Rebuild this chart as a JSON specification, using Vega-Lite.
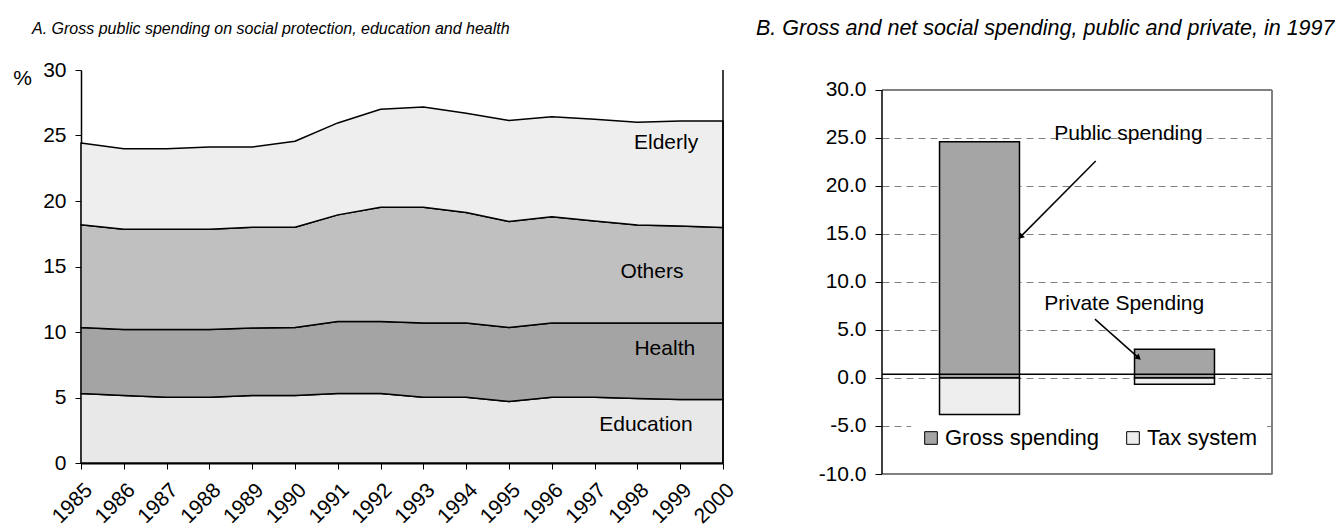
{
  "$schema": "https://vega.github.io/schema/vega-lite/v6.json",
  "background": "white",
  "padding": {"left": 12, "top": 17, "right": 5, "bottom": 0},
  "spacing": 18,
  "resolve": {"scale": {"fill": "independent"}, "legend": {"fill": "independent"}},
  "config": {
    "font": "Liberation Sans",
    "view": {"stroke": null},
    "locale": {"number": {"decimal": ".", "thousands": ",", "grouping": [3], "currency": ["$", ""], "minus": "-"}},
    "axis": {"domainColor": "black", "tickColor": "black", "labelColor": "black", "titleColor": "black", "labelFont": "Liberation Sans", "grid": false},
    "title": {"color": "black", "fontWeight": "normal", "fontStyle": "italic"}
  },
  "hconcat": [
    {
      "width": 642,
      "height": 393,
      "title": {"text": "A. Gross public spending on social protection, education and health", "anchor": "start", "frame": "group", "dx": -49, "fontSize": 16, "offset": 22},
      "layer": [
        {
          "data": {"values": [
            {"year": 1985, "Education": 5.3, "Health": 5.05, "Others": 7.83, "Elderly": 6.25},
            {"year": 1986, "Education": 5.15, "Health": 5.05, "Others": 7.65, "Elderly": 6.14},
            {"year": 1987, "Education": 5.02, "Health": 5.18, "Others": 7.65, "Elderly": 6.14},
            {"year": 1988, "Education": 5.02, "Health": 5.18, "Others": 7.65, "Elderly": 6.27},
            {"year": 1989, "Education": 5.15, "Health": 5.15, "Others": 7.7, "Elderly": 6.12},
            {"year": 1990, "Education": 5.15, "Health": 5.2, "Others": 7.65, "Elderly": 6.56},
            {"year": 1991, "Education": 5.3, "Health": 5.5, "Others": 8.14, "Elderly": 7.02},
            {"year": 1992, "Education": 5.3, "Health": 5.5, "Others": 8.73, "Elderly": 7.47},
            {"year": 1993, "Education": 5.02, "Health": 5.66, "Others": 8.85, "Elderly": 7.65},
            {"year": 1994, "Education": 5.02, "Health": 5.66, "Others": 8.45, "Elderly": 7.57},
            {"year": 1995, "Education": 4.7, "Health": 5.65, "Others": 8.09, "Elderly": 7.7},
            {"year": 1996, "Education": 5.02, "Health": 5.66, "Others": 8.11, "Elderly": 7.65},
            {"year": 1997, "Education": 5.02, "Health": 5.66, "Others": 7.8, "Elderly": 7.76},
            {"year": 1998, "Education": 4.92, "Health": 5.76, "Others": 7.48, "Elderly": 7.85},
            {"year": 1999, "Education": 4.85, "Health": 5.83, "Others": 7.42, "Elderly": 8.01},
            {"year": 2000, "Education": 4.85, "Health": 5.83, "Others": 7.3, "Elderly": 8.13}
          ]},
          "transform": [
            {"fold": ["Education", "Health", "Others", "Elderly"], "as": ["category", "value"]},
            {"lookup": "category", "from": {"data": {"values": [
              {"category": "Education", "rank": 1},
              {"category": "Health", "rank": 2},
              {"category": "Others", "rank": 3},
              {"category": "Elderly", "rank": 4}
            ]}, "key": "category", "fields": ["rank"]}}
          ],
          "mark": {"type": "area", "stroke": "black", "strokeWidth": 1.5, "strokeJoin": "round"},
          "encoding": {
            "x": {"field": "year", "type": "quantitative", "scale": {"domain": [1985, 2000], "nice": false, "zero": false},
              "axis": {"values": [1985,1986,1987,1988,1989,1990,1991,1992,1993,1994,1995,1996,1997,1998,1999,2000], "format": "d", "labelAngle": -45, "labelFontSize": 21, "tickSize": 6, "domainWidth": 2, "title": null, "labelPadding": 10, "labelFlush": false, "labelOverlap": false, "labelBound": false}},
            "y": {"field": "value", "type": "quantitative", "stack": "zero", "scale": {"domain": [0, 30], "nice": false},
              "axis": {"values": [0, 5, 10, 15, 20, 25, 30], "labelFontSize": 21, "tickSize": 6, "domainWidth": 1.5, "labelPadding": 9, "labelFlush": false, "title": "%", "titleAngle": 0, "titleX": -59, "titleY": 8, "titleFontSize": 21, "titleFontWeight": "normal", "titleAlign": "center", "titleBaseline": "middle"}},
            "fill": {"field": "category", "type": "nominal", "scale": {"domain": ["Education", "Health", "Others", "Elderly"], "range": ["#E8E8E8", "#A4A4A4", "#C0C0C0", "#EEEEEE"]}, "legend": null},
            "order": {"field": "rank", "type": "quantitative"}
          }
        },
        {
          "data": {"values": [{}]},
          "mark": {"type": "rule", "color": "black", "strokeWidth": 1.5},
          "encoding": {"x": {"datum": 2000}, "y": {"datum": 0}, "y2": {"datum": 30}}
        },
        {
          "data": {"values": [
            {"label": "Elderly", "year": 1998.67, "value": 24.4},
            {"label": "Others", "year": 1998.34, "value": 14.56},
            {"label": "Health", "year": 1998.64, "value": 8.74},
            {"label": "Education", "year": 1998.2, "value": 2.93}
          ]},
          "mark": {"type": "text", "fontSize": 21, "color": "black", "align": "center", "baseline": "middle"},
          "encoding": {
            "x": {"field": "year", "type": "quantitative"},
            "y": {"field": "value", "type": "quantitative"},
            "text": {"field": "label"}
          }
        }
      ]
    },
    {
      "width": 390,
      "height": 404,
      "title": {"text": "B. Gross and net social spending, public and private, in 1997", "anchor": "start", "frame": "group", "dx": -126, "fontSize": 21.5, "offset": 31},
      "resolve": {"scale": {"x": "independent"}},
      "layer": [
        {
          "data": {"values": [
            {"program": "Public", "type": "Gross spending", "value": 24.6},
            {"program": "Public", "type": "Tax system", "value": -3.8},
            {"program": "Private", "type": "Gross spending", "value": 3.0},
            {"program": "Private", "type": "Tax system", "value": -0.65}
          ]},
          "mark": {"type": "bar", "stroke": "black", "strokeWidth": 1.5},
          "encoding": {
            "x": {"field": "program", "type": "nominal", "sort": ["Public", "Private"], "scale": {"paddingInner": 0.59, "paddingOuter": 0.295}, "axis": null},
            "y": {"field": "value", "type": "quantitative", "stack": "zero", "scale": {"domain": [-10, 32.083], "nice": false, "zero": false},
              "axis": {"values": [-10, -5, 0, 5, 10, 15, 20, 25, 30], "format": ".1f", "labelFontSize": 21, "tickSize": 7, "domain": false, "labelPadding": 9, "title": null, "grid": true, "gridColor": "#808080", "gridDash": [7, 5], "gridWidth": 1}},
            "fill": {"field": "type", "type": "nominal", "scale": {"domain": ["Gross spending", "Tax system"], "range": ["#A5A5A5", "#EEEEEE"]},
              "legend": {"title": null, "orient": "none", "legendX": 29, "legendY": 348, "direction": "horizontal", "symbolType": "square", "symbolSize": 160, "symbolStrokeColor": "black", "symbolStrokeWidth": 1, "labelFontSize": 22, "labelColor": "black", "fillColor": "white", "padding": 9, "columnPadding": 22, "labelOffset": 3}}
          }
        },
        {
          "data": {"values": [{}]},
          "mark": {"type": "rule", "color": "#808080", "strokeWidth": 2},
          "encoding": {"y": {"datum": 30}}
        },
        {
          "data": {"values": [{}]},
          "mark": {"type": "rule", "color": "#808080", "strokeWidth": 2},
          "encoding": {"y": {"datum": -10}}
        },
        {
          "data": {"values": [{}]},
          "mark": {"type": "rule", "color": "#808080", "strokeWidth": 2},
          "encoding": {"x": {"datum": 1, "type": "quantitative", "scale": {"domain": [0, 1], "nice": false, "zero": false}, "axis": null}, "y": {"datum": -10}, "y2": {"datum": 30}}
        },
        {
          "data": {"values": [{}]},
          "mark": {"type": "rule", "color": "black", "strokeWidth": 1.5},
          "encoding": {"x": {"datum": 0, "type": "quantitative", "scale": {"domain": [0, 1], "nice": false, "zero": false}, "axis": null}, "y": {"datum": -10}, "y2": {"datum": 30}}
        },
        {
          "data": {"values": [{}]},
          "mark": {"type": "rule", "color": "black", "strokeWidth": 1.5},
          "encoding": {"y": {"datum": 0.4}}
        },
        {
          "data": {"values": [
            {"label": "Public spending", "px": 0.632, "py": 25.4},
            {"label": "Private Spending", "px": 0.621, "py": 7.7}
          ]},
          "mark": {"type": "text", "fontSize": 21, "color": "black", "align": "center", "baseline": "middle"},
          "encoding": {
            "x": {"field": "px", "type": "quantitative", "scale": {"domain": [0, 1], "nice": false, "zero": false}, "axis": null},
            "y": {"field": "py", "type": "quantitative"},
            "text": {"field": "label"}
          }
        },
        {
          "data": {"values": [
            {"arrow": "Public", "x0": 0.548, "y0": 22.6, "x1": 0.355, "y1": 14.7},
            {"arrow": "Private", "x0": 0.546, "y0": 6.13, "x1": 0.658, "y1": 2.1}
          ]},
          "mark": {"type": "rule", "color": "black", "strokeWidth": 1.5},
          "encoding": {
            "x": {"field": "x0", "type": "quantitative", "scale": {"domain": [0, 1], "nice": false, "zero": false}, "axis": null},
            "y": {"field": "y0", "type": "quantitative"},
            "x2": {"field": "x1"},
            "y2": {"field": "y1"}
          }
        },
        {
          "data": {"values": [
            {"arrow": "Public", "x1": 0.355, "y1": 14.7}
          ]},
          "mark": {"type": "point", "shape": "triangle-up", "filled": true, "color": "black", "opacity": 1, "size": 45, "angle": 225},
          "encoding": {
            "x": {"field": "x1", "type": "quantitative", "scale": {"domain": [0, 1], "nice": false, "zero": false}, "axis": null},
            "y": {"field": "y1", "type": "quantitative"}
          }
        },
        {
          "data": {"values": [
            {"arrow": "Private", "x1": 0.658, "y1": 2.1}
          ]},
          "mark": {"type": "point", "shape": "triangle-up", "filled": true, "color": "black", "opacity": 1, "size": 45, "angle": 131},
          "encoding": {
            "x": {"field": "x1", "type": "quantitative", "scale": {"domain": [0, 1], "nice": false, "zero": false}, "axis": null},
            "y": {"field": "y1", "type": "quantitative"}
          }
        }
      ]
    }
  ]
}
